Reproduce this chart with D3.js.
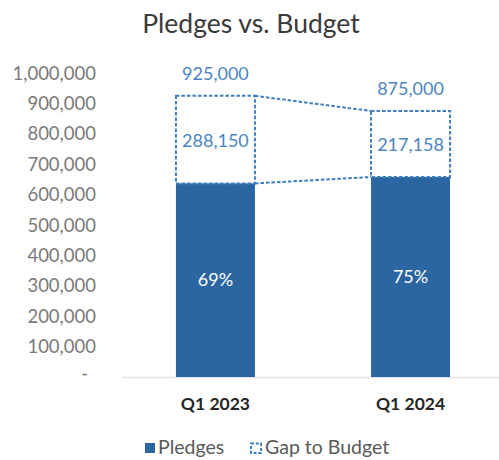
<!DOCTYPE html>
<html><head><meta charset="utf-8">
<script src="https://cdn.jsdelivr.net/npm/d3@7"></script>
<style>
body{margin:0;background:#fff;}
svg{display:block;}
text{font-family:Lato,"Noto Sans",sans-serif;}
</style></head>
<body><svg id="c" width="499" height="460"></svg>
<script>
const categories = ["Q1 2023", "Q1 2024"];
const budget = [925000, 875000];
const gap = [288150, 217158];
const pledgePct = ["69%", "75%"];
const yTicks = [0,100000,200000,300000,400000,500000,600000,700000,800000,900000,1000000];
const seriesNames = ["Pledges", "Gap to Budget"];

const pledges = budget.map((b,i)=>b-gap[i]);
const svg = d3.select("#c");
const barColor = "#2b66a3", dashColor = "#3f7fbf", labelBlue = "#4a85c2";

const y = d3.scaleLinear().domain([0,1000000]).range([377,73]);
const x = d3.scaleBand().domain(categories).range([118,508]).paddingInner(0.595).paddingOuter(0.297);

svg.append("text").attr("x",251).attr("y",33).attr("text-anchor","middle")
  .attr("font-size",26.5).attr("fill","#3a3a3a").text("Pledges vs. Budget");

// y axis labels
const fmt = d3.format(",");
svg.append("g").selectAll("text").data(yTicks).join("text")
  .attr("x",d=>d===0?88:96).attr("y",d=>y(d)+(d===0?3:6.5)).attr("text-anchor","end")
  .attr("font-size",18.5).attr("fill","#7a7a7a")
  .text(d=>d===0?"-":fmt(d));

// baseline
svg.append("line").attr("x1",122).attr("x2",499).attr("y1",y(0)+0.5).attr("y2",y(0)+0.5)
  .attr("stroke","#e4e4e4").attr("stroke-width",1.5);

// pledges bars
svg.append("g").selectAll("rect").data(categories).join("rect")
  .attr("x",d=>x(d)).attr("width",x.bandwidth())
  .attr("y",(d,i)=>y(pledges[i])).attr("height",(d,i)=>y(0)-y(pledges[i]))
  .attr("fill",barColor);

// gap dashed boxes
const dashW = 2, dashA = "3.5,2";
svg.append("g").selectAll("rect").data(categories).join("rect")
  .attr("x",d=>x(d)).attr("width",x.bandwidth())
  .attr("y",(d,i)=>y(budget[i])).attr("height",(d,i)=>y(pledges[i])-y(budget[i]))
  .attr("fill","none").attr("stroke",dashColor).attr("stroke-width",dashW)
  .attr("stroke-dasharray",dashA);

// connector lines
const c0 = categories[0], c1 = categories[1];
[budget, pledges].forEach(arr=>{
  svg.append("line")
    .attr("x1",x(c0)+x.bandwidth()).attr("y1",y(arr[0]))
    .attr("x2",x(c1)).attr("y2",y(arr[1]))
    .attr("stroke",dashColor).attr("stroke-width",dashW).attr("stroke-dasharray",dashA);
});

// budget labels
svg.append("g").selectAll("text").data(categories).join("text")
  .attr("x",d=>x(d)+x.bandwidth()/2).attr("y",(d,i)=>y(budget[i])-16)
  .attr("text-anchor","middle").attr("font-size",18).attr("fill",labelBlue)
  .text((d,i)=>fmt(budget[i]));

// gap labels
svg.append("g").selectAll("text").data(categories).join("text")
  .attr("x",d=>x(d)+x.bandwidth()/2).attr("y",(d,i)=>(y(budget[i])+y(pledges[i]))/2+7)
  .attr("text-anchor","middle").attr("font-size",18).attr("fill",labelBlue)
  .text((d,i)=>fmt(gap[i]));

// pct labels
svg.append("g").selectAll("text").data(categories).join("text")
  .attr("x",d=>x(d)+x.bandwidth()/2).attr("y",(d,i)=>(y(0)+y(pledges[i]))/2+5.5)
  .attr("text-anchor","middle").attr("font-size",18).attr("fill","#ffffff")
  .text((d,i)=>pledgePct[i]);

// x labels
svg.append("g").selectAll("text").data(categories).join("text")
  .attr("x",d=>x(d)+x.bandwidth()/2).attr("y",410)
  .attr("text-anchor","middle").attr("font-size",17.5).attr("font-weight","bold").attr("fill","#262626")
  .text(d=>d);

// legend
const lg = svg.append("g");
lg.append("rect").attr("x",145).attr("y",443).attr("width",10).attr("height",10).attr("fill",barColor);
lg.append("text").attr("x",158).attr("y",454).attr("font-size",19.5).attr("fill","#595959").text(seriesNames[0]);
lg.append("rect").attr("x",251).attr("y",443.5).attr("width",10).attr("height",9.5).attr("fill","none")
  .attr("stroke",dashColor).attr("stroke-width",dashW).attr("stroke-dasharray","3,1.8");
lg.append("text").attr("x",265).attr("y",454).attr("font-size",19.5).attr("fill","#595959").text(seriesNames[1]);
</script></body></html>
